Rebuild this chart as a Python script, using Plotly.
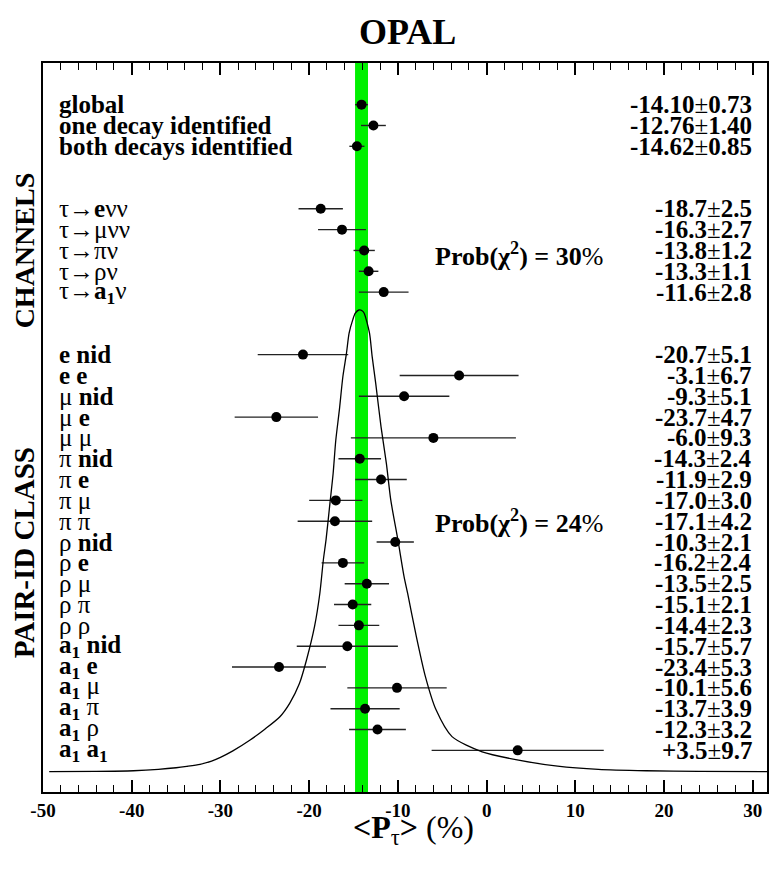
import plotly.graph_objects as go

# ---------------- data ----------------
overall_labels = ["<b>global</b>", "<b>one decay identified</b>", "<b>both decays identified</b>"]
overall_vals = [-14.10, -12.76, -14.62]
overall_errs = [0.73, 1.40, 0.85]

channel_labels = ["τ→<b>e</b>νν", "τ→μνν", "τ→πν", "τ→ρν", "τ→<b>a<sub>1</sub></b>ν"]
channel_vals = [-18.7, -16.3, -13.8, -13.3, -11.6]
channel_errs = [2.5, 2.7, 1.2, 1.1, 2.8]

pair_labels = ["<b>e nid</b>", "<b>e e</b>", "μ <b>nid</b>", "μ <b>e</b>", "μ μ",
               "π <b>nid</b>", "π <b>e</b>", "π μ", "π π",
               "ρ <b>nid</b>", "ρ <b>e</b>", "ρ μ", "ρ π", "ρ ρ",
               "<b>a<sub>1</sub> nid</b>", "<b>a<sub>1</sub> e</b>", "<b>a<sub>1</sub></b> μ",
               "<b>a<sub>1</sub></b> π", "<b>a<sub>1</sub></b> ρ", "<b>a<sub>1</sub> a<sub>1</sub></b>"]
pair_vals = [-20.7, -3.1, -9.3, -23.7, -6.0, -14.3, -11.9, -17.0, -17.1, -10.3,
             -16.2, -13.5, -15.1, -14.4, -15.7, -23.4, -10.1, -13.7, -12.3, 3.5]
pair_errs = [5.1, 6.7, 5.1, 4.7, 9.3, 2.4, 2.9, 3.0, 4.2, 2.1,
             2.4, 2.5, 2.1, 2.3, 5.7, 5.3, 5.6, 3.9, 3.2, 9.7]

prob_channels = "Prob(χ<sup>2</sup>) = 30"
prob_pairs = "Prob(χ<sup>2</sup>) = 24"

# combined likelihood curve (relative height)
curve_x = [-49.3, -44.0, -39.8, -37.0, -35.0, -33.8, -32.3, -31.0, -30.0, -28.6, -26.7,
           -25.0, -23.3, -22.2, -21.1, -20.3,
           -19.4, -18.8, -18.4, -18.1, -17.7, -17.3, -17.0, -16.6, -16.2, -15.8, -15.5,
           -15.1, -14.8, -14.4, -14.0, -13.8, -13.2, -12.9, -12.5, -11.9, -11.3, -10.8,
           -10.0, -9.3, -8.9, -8.0, -6.9, -5.7, -3.9, -0.5, 3.6, 8.0, 12.6, 18.0, 23.9, 31.6]
curve_y = [0.0, 0.0005, 0.002, 0.005, 0.0085, 0.0115, 0.016, 0.023, 0.031, 0.045, 0.068,
           0.092, 0.119, 0.148, 0.191, 0.242,
           0.314, 0.386, 0.459, 0.502, 0.574, 0.646, 0.718, 0.783, 0.856, 0.906, 0.950,
           0.978, 0.993, 1.0, 0.998, 0.993, 0.950, 0.899, 0.841, 0.747, 0.668, 0.588,
           0.502, 0.422, 0.386, 0.300, 0.206, 0.134, 0.076, 0.043, 0.025, 0.012, 0.005,
           0.002, 0.0005, 0.0]

tick_vals = [-50, -40, -30, -20, -10, 0, 10, 20, 30]
tick_text = ["-50", "-40", "-30", "-20", "-10", "0", "10", "20", "30"]

# ---------------- layout of rows ----------------
GAP = 2
groups = [
    (overall_labels, overall_vals, overall_errs, 2),
    (channel_labels, channel_vals, channel_errs, 1),
    (pair_labels, pair_vals, pair_errs, 1),
]
rows_all, vals_all, errs_all = [], [], []
group_rows = []
r = 0
for labels, vals, errs, dec in groups:
    rr = list(range(r, r + len(vals)))
    group_rows.append(rr)
    rows_all += rr
    vals_all += vals
    errs_all += errs
    r += len(vals) + GAP

FONT = "Liberation Serif"
fig = go.Figure()

# green band: global result +- error
g, ge = overall_vals[0], overall_errs[0]
fig.add_shape(type="rect", xref="x", yref="paper", x0=g - ge, x1=g + ge, y0=0, y1=1,
              fillcolor="#00f000", line_width=0, layer="below")

# curve
fig.add_trace(go.Scatter(x=curve_x, y=curve_y, mode="lines", yaxis="y2",
                         line=dict(color="black", width=1.3, shape="spline", smoothing=0.7),
                         hoverinfo="skip", showlegend=False))

# points
fig.add_trace(go.Scatter(x=vals_all, y=rows_all, mode="markers",
                         marker=dict(color="black", size=10),
                         error_x=dict(type="data", array=errs_all, width=0,
                                      thickness=1.4, color="#222222"),
                         showlegend=False))

ann = []
for (labels, vals, errs, dec), rr in zip(groups, group_rows):
    for lab, v, e, y in zip(labels, vals, errs, rr):
        ann.append(dict(x=-48.4, y=y, xref="x", yref="y", text=lab, showarrow=False,
                        xanchor="left", yanchor="middle",
                        font=dict(family=FONT, size=25, color="black")))
        txt = f"<b>{v:+.{dec}f}</b>±<b>{e:.{dec}f}</b>"
        if v < 0:
            txt = txt.replace("+", "")
        ann.append(dict(x=30.1, y=y, xref="x", yref="y", text=txt, showarrow=False,
                        xanchor="right", yanchor="middle",
                        font=dict(family=FONT, size=25, color="black")))

# prob annotations
ann.append(dict(x=-6.1, y=group_rows[1][2] + 0.2, xref="x", yref="y",
                text="<b>" + prob_channels + "</b>%", showarrow=False, xanchor="left",
                yanchor="middle", font=dict(family=FONT, size=26, color="black")))
ann.append(dict(x=-6.1, y=group_rows[2][8], xref="x", yref="y",
                text="<b>" + prob_pairs + "</b>%", showarrow=False, xanchor="left",
                yanchor="middle", font=dict(family=FONT, size=26, color="black")))

# vertical group labels
ch_c = (group_rows[1][0] + group_rows[1][-1]) / 2
pr_c = (group_rows[2][0] + group_rows[2][-1]) / 2
ann.append(dict(x=-0.025, y=ch_c, xref="paper", yref="y", text="<b>CHANNELS</b>",
                textangle=-90, showarrow=False, xanchor="center", yanchor="middle",
                font=dict(family=FONT, size=28, color="black")))
ann.append(dict(x=-0.025, y=pr_c, xref="paper", yref="y", text="<b>PAIR-ID CLASS</b>",
                textangle=-90, showarrow=False, xanchor="center", yanchor="middle",
                font=dict(family=FONT, size=29, color="black")))

# title and axis title
ann.append(dict(x=0.503, y=1.0425, xref="paper", yref="paper", text="<b>OPAL</b>",
                showarrow=False, xanchor="center", yanchor="middle",
                font=dict(family=FONT, size=36, color="black")))
ann.append(dict(x=0.512, y=-0.052, xref="paper", yref="paper",
                text="<b>&lt;P</b><sub>τ</sub><b>&gt;</b> (%)",
                showarrow=False, xanchor="center", yanchor="middle",
                font=dict(family=FONT, size=32, color="black")))

fig.update_layout(
    width=769, height=870, autosize=False,
    margin=dict(l=43, r=0, t=63, b=78),
    paper_bgcolor="white", plot_bgcolor="white",
    annotations=ann,
    xaxis=dict(range=[-50, 31.6], tickvals=tick_vals, ticktext=tick_text,
               ticks="inside", ticklen=12, tickwidth=1.5, tickcolor="black",
               minor=dict(dtick=2, tick0=-50, ticks="inside", ticklen=7, tickwidth=1,
                          tickcolor="black"),
               showline=True, linewidth=2, linecolor="black", mirror="ticks",
               showgrid=False, zeroline=False,
               tickfont=dict(family=FONT, size=19, color="black", weight="bold")),
    yaxis=dict(range=[33, -2], showticklabels=False, ticks="", showgrid=False,
               zeroline=False, showline=True, linewidth=2, linecolor="black", mirror=True),
    yaxis2=dict(range=[-0.04398, 1.535], overlaying="y", visible=False),
)

fig.write_html("out.html")
